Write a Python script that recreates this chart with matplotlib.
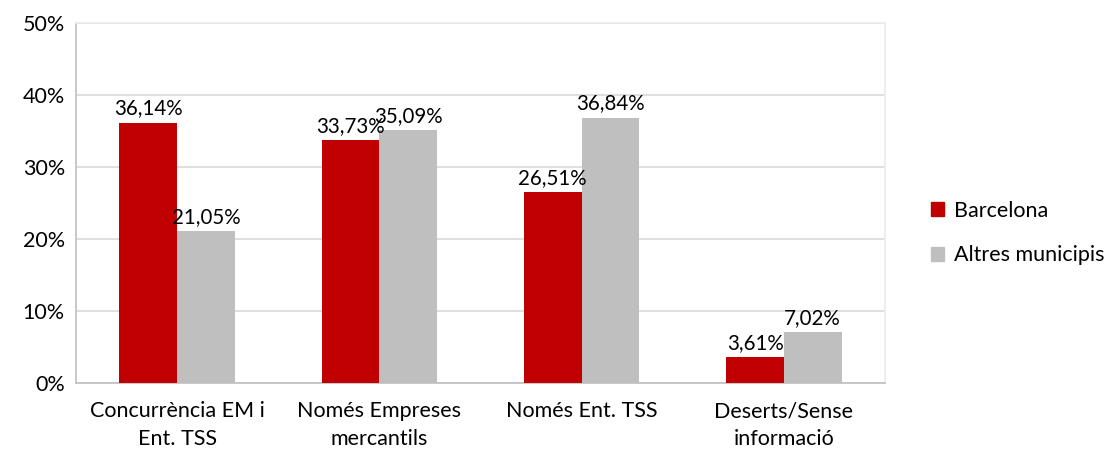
import numpy as np
import matplotlib.pyplot as plt
from matplotlib.patches import Patch

# Percentages per procurement type
categories = ["Concurrència EM i\nEnt. TSS", "Només Empreses\nmercantils",
              "Només Ent. TSS", "Deserts/Sense\ninformació"]
barcelona = [36.14, 33.73, 26.51, 3.61]
altres = [21.05, 35.09, 36.84, 7.02]
series_names = ["Barcelona", "Altres municipis"]

red = "#C00000"
grey = "#BFBFBF"
fs = 15.5

plt.rcParams['font.family'] = ['Lato', 'DejaVu Sans']

fig = plt.figure(figsize=(11.04, 4.51), dpi=100)
ax = fig.add_axes([76 / 1104, 1 - 383 / 451, 809 / 1104, 360 / 451])

x = np.arange(len(categories))
w = 0.285
b1 = ax.bar(x - w / 2, barcelona, w, color=red, zorder=3)
b2 = ax.bar(x + w / 2, altres, w, color=grey, zorder=3)

for bars, vals in ((b1, barcelona), (b2, altres)):
    for rect, v in zip(bars, vals):
        ax.text(rect.get_x() + rect.get_width() / 2, v + 0.6,
                f"{v:.2f}%".replace(".", ","), ha="center", va="bottom",
                fontsize=14.8, color="#000000")

ax.set_xlim(-0.5, len(categories) - 0.5)
ax.set_ylim(0, 50)
ax.set_yticks(range(0, 51, 10))
ax.set_yticklabels([f"{t}%" for t in range(0, 51, 10)], fontsize=fs)
ax.set_xticks(x)
ax.set_xticklabels(categories, fontsize=fs, linespacing=1.5)
ax.tick_params(axis="both", length=0, pad=8)
ax.tick_params(axis="x", pad=13)

ax.yaxis.grid(True, color="#D9D9D9", linewidth=1.2, zorder=0)
for side in ("top", "right"):
    ax.spines[side].set_color("#EBEBEB")
    ax.spines[side].set_linewidth(1.2)
for side in ("left", "bottom"):
    ax.spines[side].set_color("#BFBFBF")
    ax.spines[side].set_linewidth(1.2)

handles = [Patch(color=red), Patch(color=grey)]
fig.legend(handles, series_names, loc="center left",
           bbox_to_anchor=(912 / 1104, 1 - 233 / 451), frameon=False,
           fontsize=fs, handlelength=0.6, handleheight=0.6,
           handletextpad=0.45, labelspacing=1.15)

fig.savefig("out.png", dpi=100)
